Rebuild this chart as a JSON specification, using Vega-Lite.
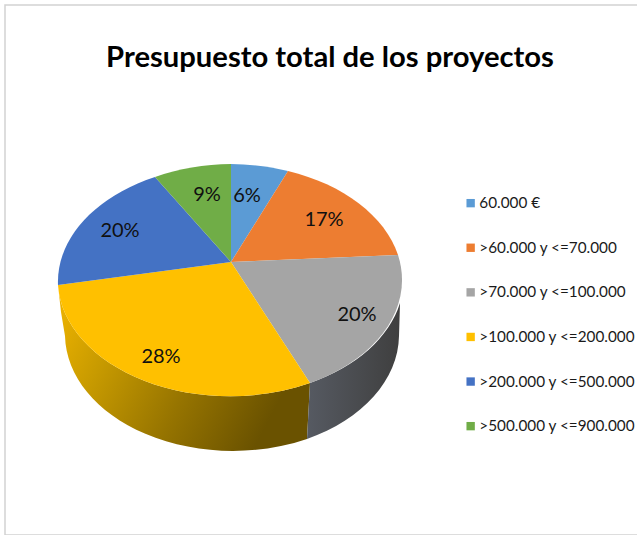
{
"$schema":"https://vega.github.io/schema/vega-lite/v6.json",
"width":640,"height":530,"autosize":{"type":"none"},"padding":{"left":5,"top":5,"right":0,"bottom":0},
"background":"white",
"view":{"stroke":"#d2d2d2","strokeWidth":1.5,"fill":"white"},
"title":{"text":"Presupuesto total de los proyectos","font":"Lato","fontWeight":"bold","fontSize":29.2,"color":"#000000","anchor":"middle","dx":5,"dy":97,"offset":0,"baseline":"bottom"},
"data":{"values":[
{"id":1,"cat":"60.000 €","pct":0.06},
{"id":2,"cat":">60.000 y <=70.000","pct":0.17},
{"id":3,"cat":">70.000 y <=100.000","pct":0.20},
{"id":4,"cat":">100.000 y <=200.000","pct":0.28},
{"id":5,"cat":">200.000 y <=500.000","pct":0.20},
{"id":6,"cat":">500.000 y <=900.000","pct":0.09}
]},
"encoding":{
"x":{"datum":0,"type":"quantitative","scale":{"domain":[-2.26,4.14]},"axis":null},
"y":{"datum":0,"type":"quantitative","scale":{"domain":[2.73,-2.57]},"axis":null}
},
"layer":[
{"transform":[{"filter":"datum.id === 4"}],
"mark":{"type":"point","filled":true,"opacity":1,"strokeWidth":0,"size":40000,"fill":{"gradient":"linear","x1":0,"y1":0,"x2":1,"y2":0.35,"stops":[{"offset":0,"color":"#f2b600"},{"offset":0.3,"color":"#c79a00"},{"offset":0.65,"color":"#967400"},{"offset":1,"color":"#6a5200"}]}},
"encoding":{"shape":{"value":"M0.79,1.21 A1.725,1.165 0 0 1 -1.73,0.23 L-1.7,0.5 L-1.66,0.74 A1.68,1.17 0 0 0 0.76,1.77 Z"}}},
{"transform":[{"filter":"datum.id === 3"}],
"mark":{"type":"point","filled":true,"opacity":1,"strokeWidth":0,"size":40000,"fill":{"gradient":"linear","x1":0,"y1":0,"x2":1,"y2":0,"stops":[{"offset":0,"color":"#565a62"},{"offset":1,"color":"#3f3f3f"}]}},
"encoding":{"shape":{"value":"M0.79,1.21 A1.725,1.165 0 0 0 1.69,0.41 L1.68,0.74 A1.68,1.17 0 0 1 0.76,1.77 Z"}}},
{"mark":{"type":"point","filled":true,"opacity":1,"strokeWidth":0,"size":40000},
"encoding":{
"shape":{"field":"id","type":"nominal","legend":null,"scale":{"domain":[1,2,3,4,5,6],"range":[
"M0,0 L0,-0.98 A1.725,1.165 0 0 1 0.57,-0.91 Z",
"M0,0 L0.57,-0.91 A1.725,1.165 0 0 1 1.67,-0.07 Z",
"M0,0 L1.67,-0.07 A1.725,1.165 0 0 1 0.79,1.21 Z",
"M0,0 L0.79,1.21 A1.725,1.165 0 0 1 -1.73,0.23 Z",
"M0,0 L-1.73,0.23 A1.725,1.165 0 0 1 -0.76,-0.85 Z",
"M0,0 L-0.76,-0.85 A1.725,1.165 0 0 1 0,-0.98 Z"]}},
"color":{"field":"cat","type":"nominal","title":null,"scale":{"domain":["60.000 €",">60.000 y <=70.000",">70.000 y <=100.000",">100.000 y <=200.000",">200.000 y <=500.000",">500.000 y <=900.000"],"range":["#5B9BD5","#ED7D31","#A5A5A5","#FFC000","#4472C4","#70AD47"]},
"legend":{"orient":"none","legendX":458,"legendY":190.5,"symbolType":"square","symbolSize":70,"symbolStrokeWidth":0,"symbolOpacity":1,"labelFont":"Lato","labelFontSize":15.3,"labelColor":"#1a1a1a","labelLimit":200,"labelOffset":1,"rowPadding":28.6,"padding":0}}
}},
{"transform":[{"filter":"datum.id === 1"}],"mark":{"type":"text","font":"Lato","fontSize":20,"color":"#101010"},"encoding":{"text":{"field":"pct","format":".0%"},"x":{"datum":0.16,"type":"quantitative"},"y":{"datum":-0.66,"type":"quantitative"}}},
{"transform":[{"filter":"datum.id === 2"}],"mark":{"type":"text","font":"Lato","fontSize":20,"color":"#101010"},"encoding":{"text":{"field":"pct","format":".0%"},"x":{"datum":0.93,"type":"quantitative"},"y":{"datum":-0.42,"type":"quantitative"}}},
{"transform":[{"filter":"datum.id === 3"}],"mark":{"type":"text","font":"Lato","fontSize":20,"color":"#101010"},"encoding":{"text":{"field":"pct","format":".0%"},"x":{"datum":1.26,"type":"quantitative"},"y":{"datum":0.53,"type":"quantitative"}}},
{"transform":[{"filter":"datum.id === 4"}],"mark":{"type":"text","font":"Lato","fontSize":20,"color":"#101010"},"encoding":{"text":{"field":"pct","format":".0%"},"x":{"datum":-0.70,"type":"quantitative"},"y":{"datum":0.95,"type":"quantitative"}}},
{"transform":[{"filter":"datum.id === 5"}],"mark":{"type":"text","font":"Lato","fontSize":20,"color":"#101010"},"encoding":{"text":{"field":"pct","format":".0%"},"x":{"datum":-1.11,"type":"quantitative"},"y":{"datum":-0.31,"type":"quantitative"}}},
{"transform":[{"filter":"datum.id === 6"}],"mark":{"type":"text","font":"Lato","fontSize":20,"color":"#101010"},"encoding":{"text":{"field":"pct","format":".0%"},"x":{"datum":-0.24,"type":"quantitative"},"y":{"datum":-0.67,"type":"quantitative"}}}
]
}
